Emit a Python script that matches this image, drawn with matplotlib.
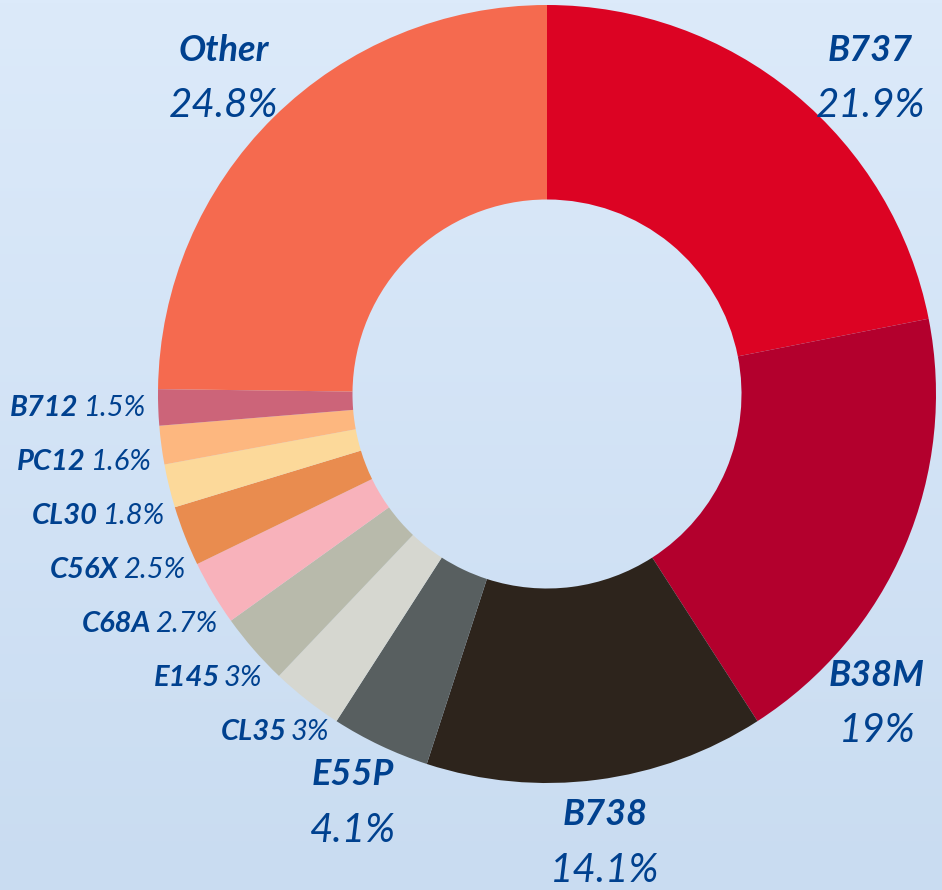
import matplotlib
matplotlib.use("Agg")
import matplotlib.pyplot as plt
import numpy as np
from matplotlib.colors import LinearSegmentedColormap

# ===== DATA =====
labels = ["B737", "B38M", "B738", "E55P", "CL35", "E145", "C68A",
          "C56X", "CL30", "PC12", "B712", "Other"]
shares = [21.9, 19, 14.1, 4.1, 3, 3, 2.7, 2.5, 1.8, 1.6, 1.5, 24.8]
pct_text = ["21.9%", "19%", "14.1%", "4.1%", "3%", "3%", "2.7%",
            "2.5%", "1.8%", "1.6%", "1.5%", "24.8%"]
colors = ["#dc0323", "#b3002d", "#2d241c", "#585f60", "#d6d7d0", "#b8baab",
          "#f8b2bb", "#e98c4f", "#fcd99a", "#fdb77f", "#cc6479", "#f56a4f"]

TXT = "#00418f"
FONT = ["Lato", "DejaVu Sans"]

W, H = 942, 890
CX, CY, R = 547, 394, 389  # centre and radius in pixels

fig = plt.figure(figsize=(W / 100, H / 100), dpi=100)
ax = fig.add_axes([0, 0, 1, 1])
ax.axis("off")

# background gradient
bg = LinearSegmentedColormap.from_list("bg", ["#c9dcf1", "#dceafa"])
grad = np.linspace(0, 1, 256).reshape(-1, 1)
ax.imshow(grad, cmap=bg, origin="lower", aspect="auto", zorder=0,
          extent=[-CX / R, (W - CX) / R, -(H - CY) / R, CY / R])

wedges, _ = ax.pie(shares, colors=colors, startangle=90, counterclock=False,
                   radius=1, wedgeprops=dict(width=0.5, linewidth=0))
for w in wedges:
    w.set_zorder(2)
ax.set_xlim(-CX / R, (W - CX) / R)
ax.set_ylim(-(H - CY) / R, CY / R)
ax.set_aspect("auto")

# ===== LABELS =====
big_r = 452 / R
max_dx = 330 / R
max_up = 316 / R
small_r = 402 / R
gap = 54 / R

small = []
for w, name, pct, val in zip(wedges, labels, pct_text, shares):
    mid = np.deg2rad((w.theta1 + w.theta2) / 2)
    if val >= 4:
        x, y = big_r * np.cos(mid), big_r * np.sin(mid)
        if y > max_up:
            y = max_up
            x = np.sign(x) * np.sqrt(big_r ** 2 - y ** 2)
        if abs(x) > max_dx:
            x = np.sign(x) * max_dx
            y = np.sign(y) * np.sqrt(big_r ** 2 - x ** 2)
        ax.annotate(name, (x, y), xytext=(0, 20), textcoords="offset points",
                    ha="center", va="center", fontsize=26, color=TXT,
                    fontweight="bold", fontstyle="italic", family=FONT, zorder=3)
        ax.annotate(pct, (x, y), xytext=(0, -20), textcoords="offset points",
                    ha="center", va="center", fontsize=29, color=TXT,
                    fontstyle="italic", family=FONT, zorder=3)
    else:
        small.append((mid, name, pct))

# small slices: right aligned, stacked with a minimum gap
small.sort(key=lambda s: -np.sin(s[0]))
prev_y = None
for mid, name, pct in small:
    y = small_r * np.sin(mid)
    if prev_y is not None and y > prev_y - gap:
        y = prev_y - gap
    prev_y = y
    x = -np.sqrt(small_r ** 2 - y ** 2)
    t = ax.text(x, y, pct, ha="right", va="center", fontsize=21, color=TXT,
                fontstyle="italic", family=FONT, zorder=3)
    ax.annotate(name, xy=(0, 0.5), xycoords=t, xytext=(-3, 0),
                textcoords="offset points", ha="right", va="center",
                fontsize=21, color=TXT, fontweight="bold", fontstyle="italic",
                family=FONT, zorder=3)

fig.savefig("out.png", dpi=100)
